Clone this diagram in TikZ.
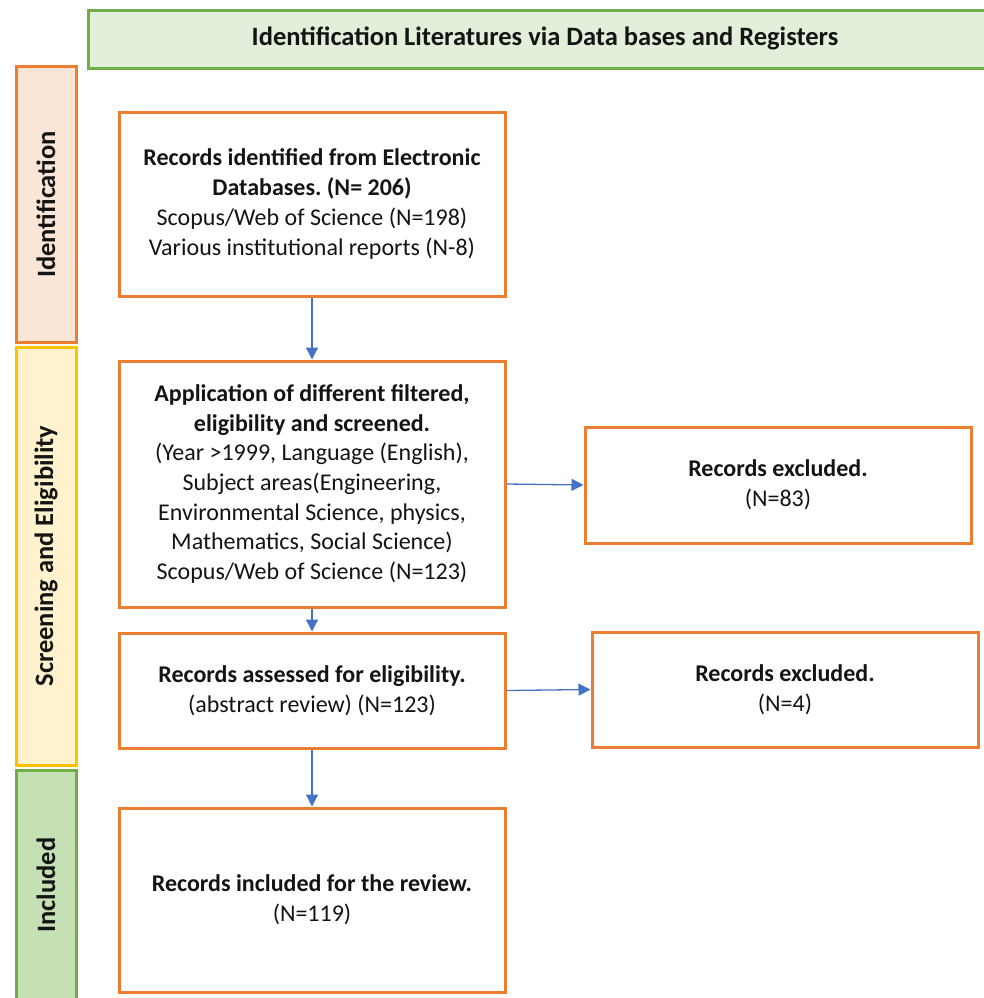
\documentclass[tikz,border=0pt]{standalone}
\usepackage{fontspec}
\setmainfont{Carlito}
\usetikzlibrary{arrows.meta}
\frenchspacing
\definecolor{orng}{HTML}{ED7D31}
\definecolor{orngfill}{HTML}{FBE5D6}
\definecolor{yel}{HTML}{FFC000}
\definecolor{yelfill}{HTML}{FFF2CC}
\definecolor{grn}{HTML}{70AD47}
\definecolor{grnfill}{HTML}{E2EFDA}
\definecolor{grnfill2}{HTML}{C5E0B4}
\definecolor{arr}{HTML}{4472C4}
\definecolor{txt}{HTML}{141414}
\begin{document}
\begin{tikzpicture}[x=1pt,y=-1pt,
  every node/.style={font=\fontsize{24}{29.7}\selectfont\frenchspacing, text=txt, inner sep=0pt},
  flowbox/.style={draw=orng, line width=3pt, fill=white, minimum width=386pt, align=center},
  sidebar/.style={rotate=90, line width=3pt, minimum height=60pt, font=\fontsize{26.5}{30}\selectfont\bfseries},
  conn/.style={draw=arr, line width=1.3pt, -{Triangle[length=12pt,width=12pt]}}]
\useasboundingbox (0,0) rectangle (984,998);
% banner
\node[draw=grn, fill=grnfill, line width=3pt, minimum width=910pt, minimum height=58pt, anchor=north west] (banner) at (87,9) {};
\node[font=\fontsize{26.5}{30}\selectfont\bfseries] (bannertext) at (545,38) {Identification Literatures via Data bases and Registers};
% side bars
\node[sidebar, draw=orng, fill=orngfill, minimum width=275pt] (idbar) at (46,204.5) {Identification};
\node[sidebar, draw=yel, fill=yelfill, minimum width=418pt] (scbar) at (46,556) {Screening and Eligibility};
\node[sidebar, draw=grn, fill=grnfill2, minimum width=230pt] (inbar) at (46,885) {Included};
% boxes
\node[flowbox, minimum height=184pt] (b1) at (312,204) {\textbf{Records identified from Electronic}\\\textbf{Databases. (N= 206)}\\Scopus/Web of Science (N=198)\\Various institutional reports (N-8)};
\node[flowbox, minimum height=246pt] (b2) at (312,484) {\textbf{Application of different filtered,}\\\textbf{eligibility and screened.}\\(Year >1999, Language (English),\\Subject areas(Engineering,\\Environmental Science, physics,\\Mathematics, Social Science)\\Scopus/Web of Science (N=123)};
\node[flowbox, minimum height=115pt] (b3) at (312,690.5) {\textbf{Records assessed for eligibility.}\\(abstract review) (N=123)};
\node[flowbox, minimum height=184pt] (b4) at (312,900) {\textbf{Records included for the review.}\\(N=119)};
\node[flowbox, minimum height=116pt] (e1) at (778,485) {\textbf{Records excluded.}\\(N=83)};
\node[flowbox, minimum height=115pt] (e2) at (785,689.5) {\textbf{Records excluded.}\\(N=4)};
% connectors
\draw[conn] (b1.south) -- (b2.north);
\draw[conn] (b2.south) -- (b3.north);
\draw[conn] (b3.south) -- (b4.north);
\draw[conn] (b2.east) -- (e1.west);
\draw[conn] (b3.east) -- (e2.west);
\end{tikzpicture}
\end{document}
